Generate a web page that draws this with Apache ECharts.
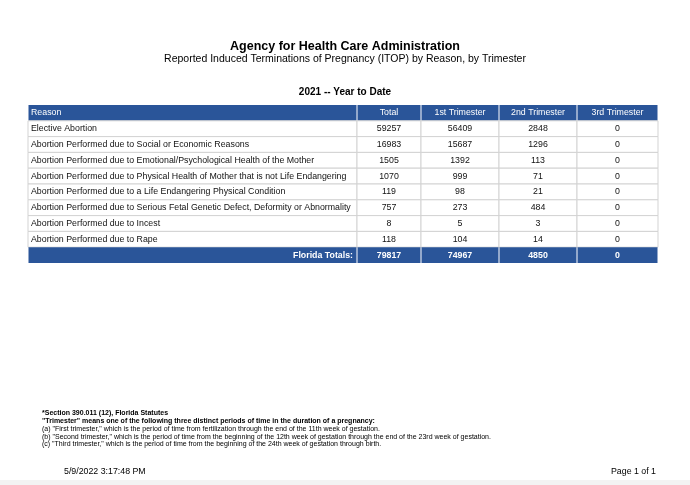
<!DOCTYPE html>
<html>
<head>
<meta charset="utf-8">
<title>ITOP by Reason, by Trimester</title>
<script src="https://cdn.jsdelivr.net/npm/echarts@6/dist/echarts.min.js"></script>
<style>
	html, body { margin: 0; padding: 0; background: #fff; }
	#main { width: 690px; height: 485px; }
</style>
</head>
<body>
<div id="main"></div>
<script>
// table contents
var columns = ['Reason', 'Total', '1st Trimester', '2nd Trimester', '3rd Trimester'];
var reasons = [
	'Elective Abortion',
	'Abortion Performed due to Social or Economic Reasons',
	'Abortion Performed due to Emotional/Psychological Health of the Mother',
	'Abortion Performed due to Physical Health of Mother that is not Life Endangering',
	'Abortion Performed due to a Life Endangering Physical Condition',
	'Abortion Performed due to Serious Fetal Genetic Defect, Deformity or Abnormality',
	'Abortion Performed due to Incest',
	'Abortion Performed due to Rape'
];
var totalValues = [59257, 16983, 1505, 1070, 119, 757, 8, 118];
var firstTrimester = [56409, 15687, 1392, 999, 98, 273, 5, 104];
var secondTrimester = [2848, 1296, 113, 71, 21, 484, 3, 14];
var thirdTrimester = [0, 0, 0, 0, 0, 0, 0, 0];
var totalsLabel = 'Florida Totals:';
var floridaTotals = [79817, 74967, 4850, 0];

// column widths (layout only)
var colEdges = [0, 329, 393, 471, 549, 630];
var blue = '#2a5599';
var font = '"Liberation Sans", Arial, sans-serif';

var rows = ['head'];
for (var i = 0; i < reasons.length; i++) {
	rows.push('r' + i);
}
rows.push('tot');

// one entry per cell: [col, row, text, kind]
var cells = [];
for (var c = 0; c < columns.length; c++) {
	cells.push([c, 0, columns[c], 'head']);
}
for (var i = 0; i < reasons.length; i++) {
	var vals = [reasons[i], totalValues[i], firstTrimester[i], secondTrimester[i], thirdTrimester[i]];
	for (var c = 0; c < vals.length; c++) {
		cells.push([c, i + 1, String(vals[c]), 'body']);
	}
}
cells.push([0, rows.length - 1, totalsLabel, 'tot']);
for (var c = 0; c < floridaTotals.length; c++) {
	cells.push([c + 1, rows.length - 1, String(floridaTotals[c]), 'tot']);
}

function renderCell(params, api) {
	var cell = cells[params.dataIndex];
	var c = cell[0], r = cell[1], kind = cell[3];
	var left = api.coord([colEdges[c], r]);
	var right = api.coord([colEdges[c + 1], r]);
	var h = api.size([0, 1])[1];
	var x = left[0], y = left[1] - h / 2, w = right[0] - left[0];
	var dark = kind !== 'body';

	var align = 'center', tx = x + w / 2;
	if (c === 0 && kind !== 'tot') {
		align = 'left';
		tx = x + 3;
	}
	else if (c === 0) {
		align = 'right';
		tx = x + w - 4;
	}

	return {
		type: 'group',
		children: [{
			type: 'rect',
			shape: dark ? { x: x + 0.5, y: y, width: w - 1, height: h } : { x: x, y: y, width: w, height: h },
			style: dark ? { fill: blue } : { fill: '#fff', stroke: '#d3d3d3', lineWidth: 1 }
		}, {
			type: 'text',
			style: {
				x: tx,
				y: y + h / 2,
				text: cell[2],
				fill: dark ? '#fff' : '#111',
				font: (kind === 'tot' ? 'bold ' : '') + '8.8px ' + font,
				textAlign: align,
				textVerticalAlign: 'middle'
			}
		}]
	};
}

var notes = [
	'(a) "First trimester," which is the period of time from fertilization through the end of the 11th week of gestation.',
	'(b) "Second trimester," which is the period of time from the beginning of the 12th week of gestation through the end of the 23rd week of gestation.',
	'(c) "Third trimester," which is the period of time from the beginning of the 24th week of gestation through birth.'
];

var chart = echarts.init(document.getElementById('main'));
var option = {
	animation: false,
	backgroundColor: '#fff',
	grid: { left: 28, right: 32, top: 105, bottom: 222 },
	xAxis: { type: 'value', min: 0, max: colEdges[colEdges.length - 1], show: false },
	yAxis: { type: 'category', data: rows, inverse: true, show: false },
	series: [{
		type: 'custom',
		renderItem: renderCell,
		data: cells.map(function(cell) { return [cell[0], cell[1]]; }),
		silent: true
	}],
	graphic: [
		{ type: 'text', left: 'center', top: 40, style: { text: 'Agency for Health Care Administration', font: 'bold 12.5px ' + font, fill: '#000' } },
		{ type: 'text', left: 'center', top: 54, style: { text: 'Reported Induced Terminations of Pregnancy (ITOP) by Reason, by Trimester', font: '10.5px ' + font, fill: '#000' } },
		{ type: 'text', left: 'center', top: 87, style: { text: '2021 -- Year to Date', font: 'bold 10px ' + font, fill: '#000' } },
		{ type: 'text', left: 42, top: 410, style: { text: '*Section 390.011 (12), Florida Statutes', font: 'bold 7px ' + font, fill: '#000' } },
		{ type: 'text', left: 42, top: 418, style: { text: '"Trimester" means one of the following three distinct periods of time in the duration of a pregnancy:', font: 'bold 7px ' + font, fill: '#000' } },
		{ type: 'text', left: 42, top: 426, style: { text: notes[0], font: '7px ' + font, fill: '#000' } },
		{ type: 'text', left: 42, top: 433.5, style: { text: notes[1], font: '7px ' + font, fill: '#000' } },
		{ type: 'text', left: 42, top: 441, style: { text: notes[2], font: '7px ' + font, fill: '#000' } },
		{ type: 'text', left: 64, top: 467, style: { text: '5/9/2022 3:17:48 PM', font: '8.8px ' + font, fill: '#000' } },
		{ type: 'text', right: 34, top: 467, style: { text: 'Page 1 of 1', font: '8.8px ' + font, fill: '#000' } },
		{ type: 'rect', left: 0, bottom: 0, shape: { width: 690, height: 5 }, style: { fill: '#f3f3f3' }, silent: true }
	]
};
chart.setOption(option);
</script>
</body>
</html>
